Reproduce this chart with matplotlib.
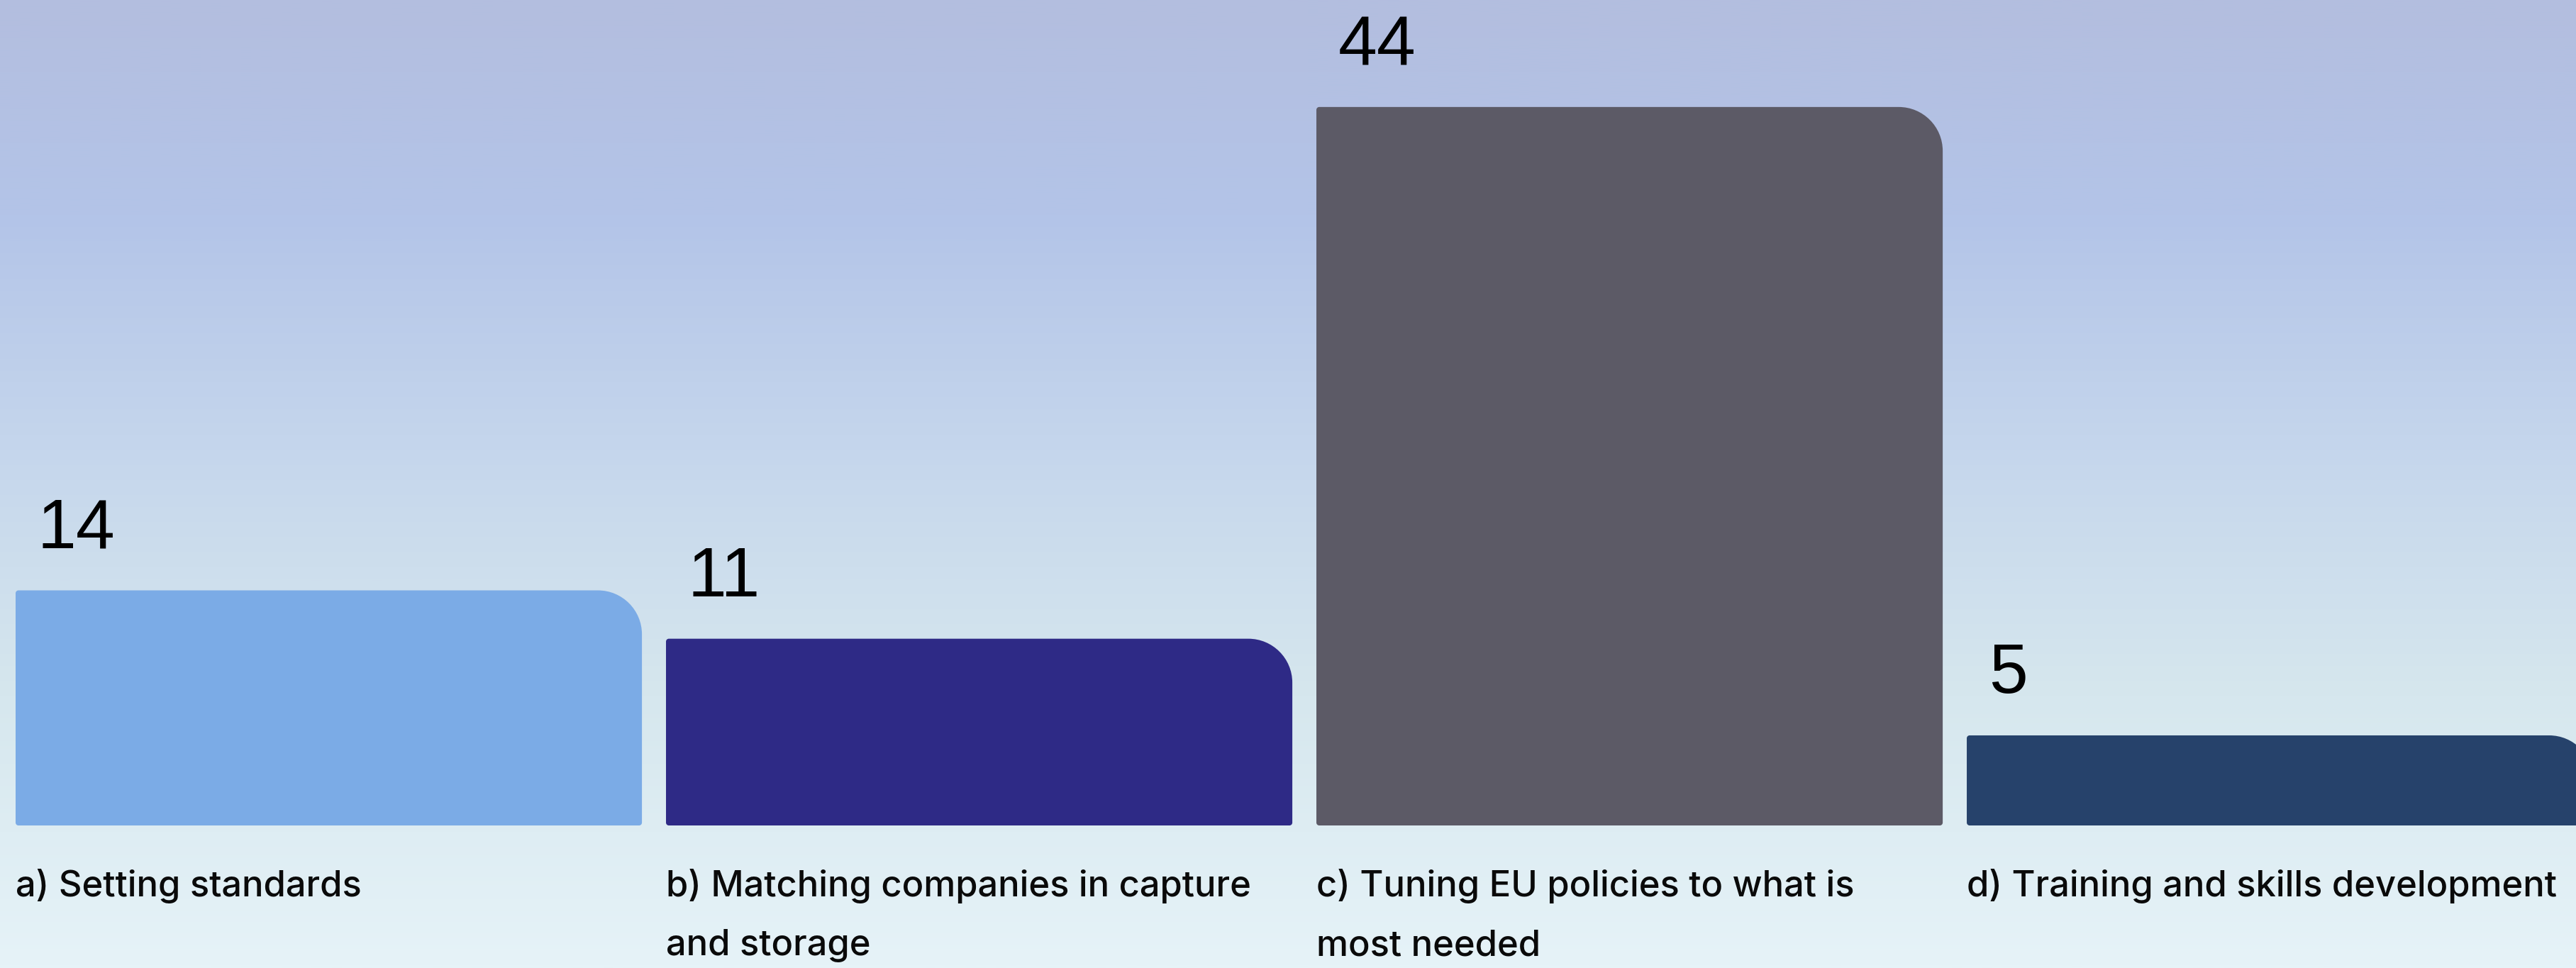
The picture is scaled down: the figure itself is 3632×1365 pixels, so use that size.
import numpy as np
import matplotlib
matplotlib.use("Agg")
import matplotlib.pyplot as plt
from matplotlib.path import Path
from matplotlib.patches import PathPatch
from matplotlib.colors import LinearSegmentedColormap

# ---- data ----
categories = [
    "a) Setting standards",
    "b) Matching companies in capture\nand storage",
    "c) Tuning EU policies to what is\nmost needed",
    "d) Training and skills development",
]
values = [14, 11, 44, 5]
value_labels = ["14", "11", "44", "5"]
bar_colors = ["#7BABE6", "#2E2A86", "#5C5A66", "#26426B"]

# ---- style ----
W_PX, H_PX, DPI = 3632, 1365, 100
BAR_WIDTH = 0.963
BAR_BASE = -0.59
XLIM = (-0.5055, 3.4552)
YLIM = (BAR_BASE, 50.64)
AX_BOTTOM_PX = 1164
R_TOP_RIGHT = 62   # px
R_OTHER = 4        # px

fig = plt.figure(figsize=(W_PX / DPI, H_PX / DPI), dpi=DPI)

# background gradient
bg = fig.add_axes([0, 0, 1, 1], zorder=-10)
bg_cmap = LinearSegmentedColormap.from_list(
    "bg",
    [(0.0, (179/255, 190/255, 223/255)),
     (0.22, (179/255, 196/255, 232/255)),
     (0.45, (196/255, 213/255, 236/255)),
     (0.72, (214/255, 231/255, 238/255)),
     (1.0, (230/255, 243/255, 248/255))])
grad = np.linspace(0, 1, 512).reshape(-1, 1)
bg.imshow(grad, aspect="auto", cmap=bg_cmap, extent=[0, 1, 1, 0])
bg.set_axis_off()

ax_h = AX_BOTTOM_PX / H_PX
ax = fig.add_axes([0, 1 - ax_h, 1, ax_h])
ax.patch.set_alpha(0)
ax.set_xlim(*XLIM)
ax.set_ylim(*YLIM)
for s in ax.spines.values():
    s.set_visible(False)
ax.set_yticks([])

x = np.arange(len(values))
bars = ax.bar(x, np.array(values) - BAR_BASE, bottom=BAR_BASE, width=BAR_WIDTH,
              color=bar_colors)

px_x = W_PX / (XLIM[1] - XLIM[0])
px_y = AX_BOTTOM_PX / (YLIM[1] - YLIM[0])
K = 0.5523

def rounded_path(x0, y0, x1, y1, r_tr, r_o):
    rxt, ryt = r_tr / px_x, r_tr / px_y
    rxo, ryo = r_o / px_x, r_o / px_y
    verts, codes = [], []
    def corner(ctrl1, ctrl2, p_end):
        verts.extend([ctrl1, ctrl2, p_end]); codes.extend([Path.CURVE4] * 3)
    verts.append((x0 + rxo, y0)); codes.append(Path.MOVETO)
    verts.append((x1 - rxo, y0)); codes.append(Path.LINETO)
    corner((x1 - rxo + K * rxo, y0), (x1, y0 + ryo - K * ryo), (x1, y0 + ryo))
    verts.append((x1, y1 - ryt)); codes.append(Path.LINETO)
    corner((x1, y1 - ryt + K * ryt), (x1 - rxt + K * rxt, y1), (x1 - rxt, y1))
    verts.append((x0 + rxo, y1)); codes.append(Path.LINETO)
    corner((x0 + rxo - K * rxo, y1), (x0, y1 - ryo + K * ryo), (x0, y1 - ryo))
    verts.append((x0, y0 + ryo)); codes.append(Path.LINETO)
    corner((x0, y0 + ryo - K * ryo), (x0 + rxo - K * rxo, y0), (x0 + rxo, y0))
    verts.append((x0 + rxo, y0)); codes.append(Path.CLOSEPOLY)
    return Path(verts, codes)

for b, c in zip(bars, bar_colors):
    x0, y0 = b.get_x(), b.get_y()
    x1, y1 = x0 + b.get_width(), y0 + b.get_height()
    b.set_visible(False)
    ax.add_patch(PathPatch(rounded_path(x0, y0, x1, y1, R_TOP_RIGHT, R_OTHER),
                           facecolor=c, edgecolor="none", clip_on=False))

# value labels
for b, lab in zip(bars, value_labels):
    ax.annotate(lab, (b.get_x(), b.get_y() + b.get_height()),
                xytext=(22, 43), textcoords="offset points",
                ha="left", va="baseline", fontsize=71,
                family="Liberation Sans", color="#000000")

# category labels
ax.set_xticks(x - BAR_WIDTH / 2)
ax.set_xticklabels(categories, ha="left", va="top", fontsize=36.5,
                   family="Inter", fontweight="medium", color="#0A0A0A",
                   linespacing=1.97)
ax.tick_params(axis="x", length=0, pad=44)

fig.savefig("out.png", dpi=DPI)
